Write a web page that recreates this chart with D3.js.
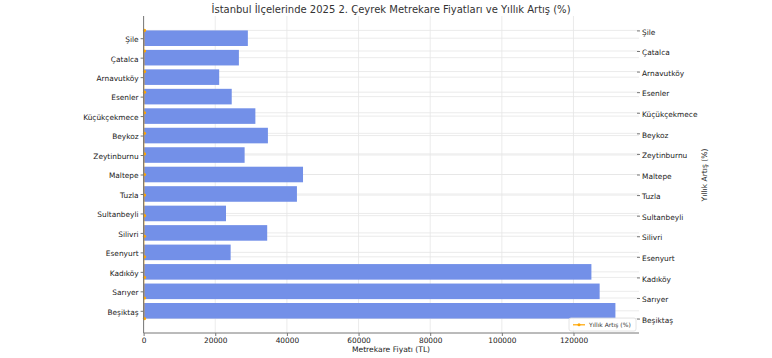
<!DOCTYPE html>
<html>
<head>
<meta charset="utf-8">
<script src="https://cdn.jsdelivr.net/npm/d3@7"></script>
<style>
  html, body { margin: 0; padding: 0; background: #fff; }
  svg { display: block; font-family: "DejaVu Sans", sans-serif; }
</style>
</head>
<body>
<svg id="chart" width="772" height="358"></svg>
<script>
// Districts, bottom (index 0) to top
const districts = ["Beşiktaş", "Sarıyer", "Kadıköy", "Esenyurt", "Silivri", "Sultanbeyli", "Tuzla", "Maltepe", "Zeytinburnu", "Beykoz", "Küçükçekmece", "Esenler", "Arnavutköy", "Çatalca", "Şile"];
// Metrekare fiyatı (TL)
const prices = [131700, 127300, 125000, 24300, 34500, 23000, 42800, 44500, 28200, 34700, 31200, 24600, 21100, 26600, 29100];
// Yıllık artış (%) — plotted on the same x scale, so they sit at ~0
const increases = [29, 31, 28, 44, 39, 45, 37, 33, 42, 30, 36, 38, 40, 32, 35];
const xTicks = [0, 20000, 40000, 60000, 80000, 100000, 120000];

const title = "İstanbul İlçelerinde 2025 2. Çeyrek Metrekare Fiyatları ve Yıllık Artış (%)";
const xLabel = "Metrekare Fiyatı (TL)";
const y2Label = "Yıllık Artış (%)";
const legendLabel = "Yıllık Artış (%)";

const svg = d3.select("#chart");
const L = 143.6, R = 639, T = 16, B = 333;

const n = districts.length;
const x = d3.scaleLinear().domain([0, d3.max(prices) * 1.05]).range([L, R]);
// primary (bar) axis: matplotlib barh limits with 5% margin
const barH = 0.8;
const lo = -barH / 2, hi = n - 1 + barH / 2, m1 = (hi - lo) * 0.05;
const y = d3.scaleLinear().domain([lo - m1, hi + m1]).range([B, T]);
// twin axis for the line
const m2 = (n - 1) * 0.05;
const y2 = d3.scaleLinear().domain([-m2, n - 1 + m2]).range([B, T]);

const gridColor = "#e6e6e6";
const grid = svg.append("g");
xTicks.forEach(t => {
  grid.append("line").attr("x1", x(t)).attr("x2", x(t)).attr("y1", T).attr("y2", B)
    .attr("stroke", gridColor).attr("stroke-width", 0.8);
});
districts.forEach((d, i) => {
  grid.append("line").attr("x1", L).attr("x2", R).attr("y1", y(i)).attr("y2", y(i))
    .attr("stroke", gridColor).attr("stroke-width", 0.8);
  grid.append("line").attr("x1", L).attr("x2", R).attr("y1", y2(i)).attr("y2", y2(i))
    .attr("stroke", gridColor).attr("stroke-width", 0.8);
});

// bars
const bh = y(0) - y(barH);
svg.append("g").selectAll("rect").data(prices).join("rect")
  .attr("x", x(0))
  .attr("y", (d, i) => y(i + barH / 2))
  .attr("width", d => x(d) - x(0))
  .attr("height", bh)
  .attr("fill", "#7390e8");

// orange line (twin axis)
const line = d3.line().x(d => x(d[0])).y(d => y2(d[1]));
const pts = increases.map((v, i) => [v, i]);
svg.append("path").attr("d", line(pts)).attr("fill", "none").attr("stroke", "orange").attr("stroke-width", 1.2);
svg.append("g").selectAll("circle").data(pts).join("circle")
  .attr("cx", d => x(d[0]) + 0.8).attr("cy", d => y2(d[1])).attr("r", 1.6).attr("fill", "orange");

// spines
svg.append("line").attr("x1", L).attr("x2", L).attr("y1", T).attr("y2", B).attr("stroke", "#777").attr("stroke-width", 1);
svg.append("line").attr("x1", L).attr("x2", R).attr("y1", B).attr("y2", B).attr("stroke", "#777").attr("stroke-width", 1);

const fs = 7.4;
// x axis
const xAxis = d3.axisBottom(x).tickValues(xTicks).tickFormat(d3.format("d")).tickSize(3).tickPadding(2);
const gx = svg.append("g").attr("transform", `translate(0,${B})`).call(xAxis);
gx.select(".domain").remove();
gx.selectAll("line").attr("stroke", "#777");
gx.selectAll("text").attr("font-size", fs).attr("fill", "#1a1a1a").attr("font-family", "DejaVu Sans");

// left y axis
const yAxis = d3.axisLeft(y).tickValues(d3.range(n)).tickFormat(i => districts[i]).tickSize(3).tickPadding(2);
const gy = svg.append("g").attr("transform", `translate(${L},0)`).call(yAxis);
gy.select(".domain").remove();
gy.selectAll("line").attr("stroke", "#777");
gy.selectAll("text").attr("font-size", fs).attr("fill", "#1a1a1a").attr("font-family", "DejaVu Sans").attr("dy", "0.45em");

// right y axis (twin)
const y2Axis = d3.axisRight(y2).tickValues(d3.range(n)).tickFormat(i => districts[i]).tickSize(3).tickPadding(2);
const gy2 = svg.append("g").attr("transform", `translate(${R - 2},0)`).call(y2Axis);
gy2.select(".domain").remove();
gy2.selectAll("line").attr("stroke", "#777");
gy2.selectAll("text").attr("font-size", fs).attr("fill", "#1a1a1a").attr("font-family", "DejaVu Sans").attr("dy", "0.5em");

// title & labels
svg.append("text").attr("x", 391).attr("y", 12.5).attr("text-anchor", "middle")
  .attr("font-size", 10).attr("fill", "#333").text(title);
svg.append("text").attr("x", 391).attr("y", 352).attr("text-anchor", "middle")
  .attr("font-size", 7.6).attr("fill", "#1a1a1a").text(xLabel);
svg.append("text").attr("transform", "translate(707,175) rotate(-90)").attr("text-anchor", "middle")
  .attr("font-size", 7.6).attr("fill", "#1a1a1a").text(y2Label);

// legend
const lg = svg.append("g").attr("transform", "translate(569,318)");
lg.append("rect").attr("x", 0).attr("y", 0).attr("width", 67).attr("height", 13).attr("rx", 2)
  .attr("fill", "rgba(255,255,255,0.85)").attr("stroke", "#ddd").attr("stroke-width", 0.8);
lg.append("line").attr("x1", 4).attr("x2", 16).attr("y1", 6.8).attr("y2", 6.8).attr("stroke", "orange").attr("stroke-width", 1.2);
lg.append("circle").attr("cx", 10).attr("cy", 6.8).attr("r", 1.5).attr("fill", "orange");
lg.append("text").attr("x", 20).attr("y", 9).attr("font-size", 6).attr("fill", "#333").text(legendLabel);
</script>
</body>
</html>
